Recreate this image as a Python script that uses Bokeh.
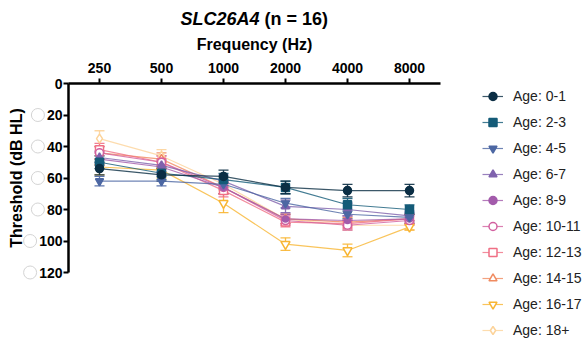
from bokeh.plotting import figure
from bokeh.models import (ColumnDataSource, Range1d, FixedTicker, Whisker, TeeHead,
                          Legend, LegendItem, Label, NumeralTickFormatter)
from bokeh.embed import file_html
from bokeh.resources import INLINE

freqs = [250, 500, 1000, 2000, 4000, 8000]
groups = ["Age: 0-1", "Age: 2-3", "Age: 4-5", "Age: 6-7", "Age: 8-9",
          "Age: 10-11", "Age: 12-13", "Age: 14-15", "Age: 16-17", "Age: 18+"]
y_ticks = [0, 20, 40, 60, 80, 100, 120]

thr_0_1 = [54, 58, 59, 66, 68, 68]
thr_2_3 = [50, 57, 61, 66, 77, 80]
thr_4_5 = [62, 62, 64, 76, 83, 85]
thr_6_7 = [47, 52, 62, 78, 80, 84]
thr_8_9 = [48, 53, 66, 86, 87, 86]
thr_10_11 = [44, 50, 66, 87, 90, 87]
thr_12_13 = [42, 50, 68, 88, 89, 86]
thr_14_15 = [44, 48, 66, 86, 88, 86]
thr_16_17 = [53, 55, 76, 102, 106, 91]
thr_18p = [35, 46, 64, 86, 90, 90]

err_0_1 = [4, 4, 4, 4, 4, 4]
err_2_3 = [4, 4, 4, 4, 4, 3]
err_4_5 = [3, 3, 3, 3, 3, 3]
err_6_7 = [4, 4, 4, 4, 4, 3]
err_8_9 = [4, 4, 4, 3, 3, 3]
err_10_11 = [4, 4, 4, 3, 3, 3]
err_12_13 = [4, 4, 4, 3, 3, 3]
err_14_15 = [4, 4, 4, 3, 3, 3]
err_16_17 = [5, 5, 6, 4, 4, 2]
err_18p = [5, 4, 4, 3, 3, 3]

title_gene = "SLC26A4"
title_rest = "(n = 16)"

series = [thr_0_1, thr_2_3, thr_4_5, thr_6_7, thr_8_9,
          thr_10_11, thr_12_13, thr_14_15, thr_16_17, thr_18p]
errors = [err_0_1, err_2_3, err_4_5, err_6_7, err_8_9,
          err_10_11, err_12_13, err_14_15, err_16_17, err_18p]
colors = ["#0b2e44", "#145b78", "#4c67a3", "#7f62ad", "#a35bab",
          "#d2609f", "#f06f85", "#f08b60", "#f8b532", "#fcd39a"]
markers = ["circle", "square", "inverted_triangle", "triangle", "circle",
           "circle", "square", "triangle", "inverted_triangle", "diamond"]
filled = [True, True, True, True, True, False, False, False, False, False]
sizes = [8, 8, 8, 8, 6, 8, 8, 8, 9, 9]

FONT = "Liberation Sans"
W, H = 587, 346
L, R, T, B = 68, 440, 83, 272   # axis box in page pixels
PX250, OCT = 99, 62             # pixel of 250 Hz, pixels per octave


def px_to_x(px):
    return 250 * 2 ** ((px - PX250) / OCT)


def py_to_y(py):
    return (py - T) * 120 / (B - T)


# the frame fills the whole page; axes are drawn at fixed locations inside it
p = figure(width=W, height=H, output_backend="svg", toolbar_location=None,
           x_axis_type="log", x_axis_location="above",
           x_range=Range1d(px_to_x(0), px_to_x(W)),
           y_range=Range1d(py_to_y(H), py_to_y(0)),
           min_border=0, min_border_left=0, min_border_right=0,
           min_border_top=0, min_border_bottom=0)
p.outline_line_color = None
p.xgrid.visible = False
p.ygrid.visible = False

xa = p.xaxis[0]
xa.ticker = FixedTicker(ticks=freqs)
xa.formatter = NumeralTickFormatter(format="0")
xa.axis_label = "Frequency (Hz)"
xa.fixed_location = 0
xa.bounds = (px_to_x(L), px_to_x(R))
ya = p.yaxis[0]
ya.ticker = FixedTicker(ticks=y_ticks)
ya.axis_label = "Threshold (dB HL)"
ya.fixed_location = px_to_x(L)
ya.bounds = (0, 120)
for ax in (xa, ya):
    ax.axis_line_width = 2.5
    ax.axis_line_color = "black"
    ax.major_tick_line_width = 2
    ax.major_tick_line_color = "black"
    ax.major_tick_out = 5
    ax.major_tick_in = 0
    ax.minor_tick_line_color = None
    ax.major_label_text_font = FONT
    ax.major_label_text_font_style = "bold"
    ax.major_label_text_font_size = "14px"
    ax.major_label_text_color = "black"
    ax.axis_label_text_font = FONT
    ax.axis_label_text_font_style = "bold"
    ax.axis_label_text_font_size = "16px"
    ax.axis_label_text_color = "black"
xa.major_label_standoff = 6
xa.axis_label_standoff = 7
ya.major_label_standoff = 1
ya.axis_label_standoff = 11

# faint round marks sitting just left of the y tick labels, as in the reference
ring_src = ColumnDataSource(dict(
    x=[px_to_x(L - 5 - 1 - len(str(t)) * 7.8 - 9) for t in y_ticks[1:]],
    y=y_ticks[1:]))
p.scatter("x", "y", source=ring_src, marker="circle", size=13,
          line_color="#d4d4d4", line_width=1, fill_color="white")

items = []
for i in reversed(range(len(groups))):
    c = colors[i]
    src = ColumnDataSource(dict(x=freqs, y=series[i],
                                lo=[v - e for v, e in zip(series[i], errors[i])],
                                hi=[v + e for v, e in zip(series[i], errors[i])]))
    wk = Whisker(source=src, base="x", upper="hi", lower="lo", dimension="height",
                 line_color=c, line_width=1.3, line_alpha=0.9,
                 upper_head=TeeHead(size=10, line_color=c, line_width=1.3, line_alpha=0.9),
                 lower_head=TeeHead(size=10, line_color=c, line_width=1.3, line_alpha=0.9))
    p.add_layout(wk)
    lr = p.line("x", "y", source=src, line_color=c, line_width=1.2, line_alpha=0.8)
    sr = p.scatter("x", "y", source=src, marker=markers[i], size=sizes[i],
                   line_color=c, line_width=1.5,
                   fill_color=c if filled[i] else "white")
    items.append(LegendItem(label=groups[i], renderers=[lr, sr]))

items = list(reversed(items))
leg = Legend(items=items, location=(482, 6),
             label_text_font=FONT, label_text_font_size="14px",
             label_text_color="#222222", glyph_width=21, glyph_height=20,
             label_height=20, spacing=6, label_standoff=10, padding=0, margin=0,
             border_line_color=None, background_fill_alpha=0)
p.add_layout(leg, "center")

p.add_layout(Label(x=259, y=H - 18, x_units="screen", y_units="screen",
                   text=title_gene, text_align="right", text_baseline="middle",
                   text_font=FONT, text_font_style="bold italic",
                   text_font_size="18px", text_color="black"))
p.add_layout(Label(x=264, y=H - 18, x_units="screen", y_units="screen",
                   text=title_rest, text_align="left", text_baseline="middle",
                   text_font=FONT, text_font_style="bold",
                   text_font_size="18px", text_color="black"))

open("out.html", "w").write(file_html(p, INLINE))
